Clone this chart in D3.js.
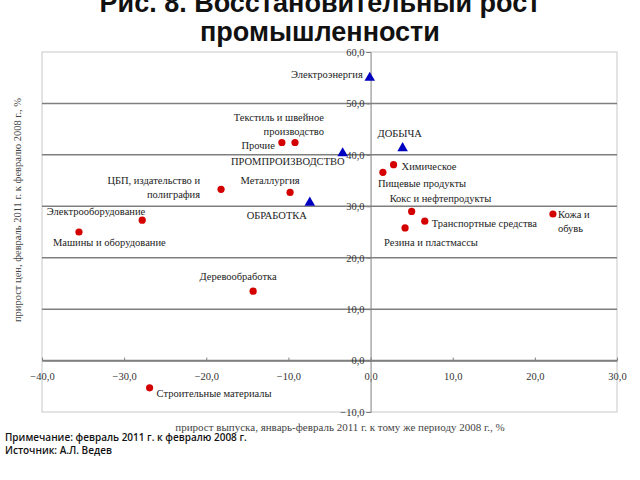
<!DOCTYPE html>
<html><head><meta charset="utf-8">
<script src="https://cdn.jsdelivr.net/npm/d3@7/dist/d3.min.js"></script>
<style>body{margin:0;background:#fff}svg{display:block}</style>
</head><body>
<svg id="c" width="640" height="480"></svg>
<script>
// Data
const aggNames = ["Электроэнергия", "ДОБЫЧА", "ПРОМПРОИЗВОДСТВО", "ОБРАБОТКА"];
const aggOutput = [-0.1, 3.9, -3.4, -7.4];
const aggPrice = [55.0, 41.3, 40.3, 30.7];

const indNames = ["Прочие", "Текстиль и швейное\nпроизводство", "ЦБП, издательство и\nполиграфия", "Металлургия",
  "Электрооборудование", "Машины и оборудование", "Деревообработка", "Строительные материалы",
  "Химическое", "Пищевые продукты", "Кокс и нефтепродукты", "Транспортные средства",
  "Резина и пластмассы", "Кожа и\nобувь"];
const indOutput = [-10.8, -9.2, -18.2, -9.8, -27.8, -35.5, -14.3, -26.9, 2.8, 1.5, 5.0, 6.6, 4.2, 22.2];
const indPrice = [42.4, 42.4, 33.3, 32.7, 27.3, 25.0, 13.5, -5.3, 38.1, 36.6, 29.0, 27.1, 25.8, 28.5];

const xTicks = [-40, -30, -20, -10, 0, 10, 20, 30];
const yTicks = [-10, 0, 10, 20, 30, 40, 50, 60];

const titleLines = ["Рис. 8. Восстановительный рост", "промышленности"];
const xTitle = "прирост выпуска, январь-февраль 2011 г. к тому же периоду 2008 г., %";
const yTitle = "прирост цен, февраль 2011 г. к февралю 2008 г., %";
const notes = ["Примечание: февраль 2011 г. к февралю 2008 г.", "Источник: А.Л. Ведев"];

// label placement (style): [dx, dy, anchor]
const aggLabelPos = {
  "Электроэнергия": [-7, 0, "end"],
  "ДОБЫЧА": [-25, -11, "start"],
  "ПРОМПРОИЗВОДСТВО": [2, 12, "end"],
  "ОБРАБОТКА": [-33, 16, "middle"]
};
const indLabelPos = {
  "Прочие": [-7, 6, "end"],
  "Текстиль и швейное\nпроизводство": [29, -22, "end"],
  "ЦБП, издательство и\nполиграфия": [-21, -5, "end"],
  "Металлургия": [-20, -8, "middle"],
  "Электрооборудование": [3, -5, "end"],
  "Машины и оборудование": [-26, 14, "start"],
  "Деревообработка": [-15, -11, "middle"],
  "Строительные материалы": [7, 9, "start"],
  "Химическое": [8, 5, "start"],
  "Пищевые продукты": [-5, 15, "start"],
  "Кокс и нефтепродукты": [-22, -9, "start"],
  "Транспортные средства": [7, 6, "start"],
  "Резина и пластмассы": [-21, 18, "start"],
  "Кожа и\nобувь": [5, 4, "start"]
};

const svg = d3.select("#c");
const L = 42, R = 617, T = 52, B = 412;
const x = d3.scaleLinear().domain([-40, 30]).range([L, R]);
const y = d3.scaleLinear().domain([-10, 60]).range([B, T]);
const serif = "'Liberation Serif','Times New Roman',serif";

// title
svg.append("g").selectAll("text").data(titleLines).join("text")
  .attr("x", 320).attr("y", (d, i) => 12 + i * 29)
  .attr("text-anchor", "middle")
  .style("font-family", "'Liberation Sans',Arial,sans-serif")
  .style("font-weight", "bold").style("font-size", "27px").attr("fill", "#111")
  .text(d => d);

// plot border
svg.append("rect").attr("x", L).attr("y", T).attr("width", R - L).attr("height", B - T)
  .attr("fill", "none").attr("stroke", "#c8c8c8").attr("stroke-width", 1);

// grid lines
svg.append("g").selectAll("line").data(yTicks.filter(v => v > -10 && v < 60)).join("line")
  .attr("x1", L).attr("x2", R).attr("y1", d => y(d)).attr("y2", d => y(d))
  .attr("stroke", "#7f7f7f").attr("stroke-width", 1.5);

// axes
const fmt = d => d3.format(".1f")(d).replace(".", ",");
const xAxis = d3.axisBottom(x).tickValues(xTicks).tickSize(0).tickPadding(12).tickFormat(fmt);
const gx = svg.append("g").attr("transform", `translate(0,${y(0)})`).call(xAxis);
gx.select(".domain").attr("stroke", "#7f7f7f").attr("stroke-width", 1.5);
gx.selectAll(".tick").append("line").attr("y1", -3).attr("y2", 0).attr("stroke", "#7f7f7f");
gx.selectAll("text").style("font-family", serif).style("font-size", "10.5px").attr("fill", "#333");

const yAxis = d3.axisLeft(y).tickValues(yTicks).tickSize(4).tickPadding(2).tickFormat(fmt);
const gy = svg.append("g").attr("transform", `translate(${x(0)},0)`).call(yAxis);
gy.select(".domain").attr("stroke", "#7f7f7f").attr("stroke-width", 1);
gy.selectAll(".tick line").attr("stroke", "#7f7f7f");
gy.selectAll("text").style("font-family", serif).style("font-size", "10.5px").attr("fill", "#333");

// axis titles
svg.append("text").attr("x", 340).attr("y", 431).attr("text-anchor", "middle")
  .style("font-family", serif).style("font-size", "11px").attr("fill", "#444").text(xTitle);
svg.append("text").attr("transform", `translate(21,${210}) rotate(-90)`).attr("text-anchor", "middle")
  .style("font-family", serif).style("font-size", "10.5px").attr("fill", "#444").text(yTitle);

// labels helper
function drawLabel(g, name, px, py, pos) {
  const [dx, dy, anchor] = pos;
  const t = g.append("text").attr("text-anchor", anchor)
    .style("font-family", serif).style("font-size", "10.5px").attr("fill", "#222");
  name.split("\n").forEach((ln, i) => {
    t.append("tspan").attr("x", px + dx).attr("y", py + dy + i * 14).text(ln);
  });
}

const gl = svg.append("g");
// industries
const ind = indNames.map((n, i) => ({ n, x: indOutput[i], y: indPrice[i] }));
svg.append("g").selectAll("circle").data(ind).join("circle")
  .attr("cx", d => x(d.x)).attr("cy", d => y(d.y)).attr("r", 3.6).attr("fill", "#d40000");
ind.forEach(d => drawLabel(gl, d.n, x(d.x), y(d.y), indLabelPos[d.n]));

// aggregates
const agg = aggNames.map((n, i) => ({ n, x: aggOutput[i], y: aggPrice[i] }));
const tri = d3.symbol().type(d3.symbolTriangle).size(48);
svg.append("g").selectAll("path").data(agg).join("path")
  .attr("transform", d => `translate(${x(d.x)},${y(d.y)})`).attr("d", tri).attr("fill", "#0000c0");
agg.forEach(d => drawLabel(gl, d.n, x(d.x), y(d.y), aggLabelPos[d.n]));

// notes
svg.append("g").selectAll("text").data(notes).join("text")
  .attr("x", 5).attr("y", (d, i) => 441 + i * 13)
  .style("font-family", "'Open Sans',sans-serif").style("font-size", "10px").style("font-weight", "600")
  .attr("fill", "#111").text(d => d);
</script>
</body></html>
